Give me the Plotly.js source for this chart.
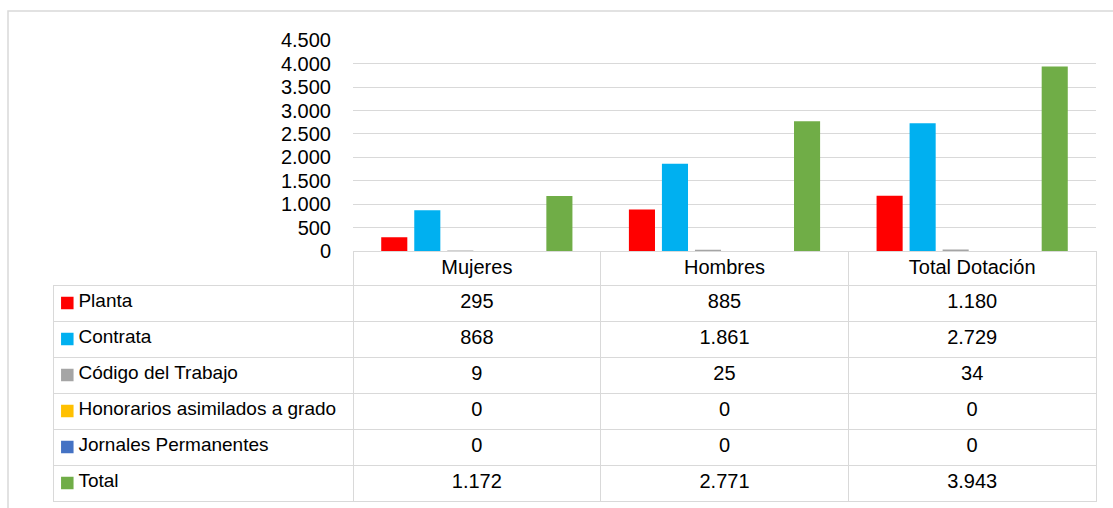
<!DOCTYPE html>
<html><head><meta charset="utf-8">
<script src="https://cdn.plot.ly/plotly-3.0.1.min.js"></script>
<style>html,body{margin:0;padding:0;background:#fff}</style>
</head><body><div id="chart" style="width:1113px;height:508px"></div>
<script>
const categories = ['Mujeres', 'Hombres', 'Total Dotación'];
const seriesNames = ['Planta', 'Contrata', 'Código del Trabajo', 'Honorarios asimilados a grado', 'Jornales Permanentes', 'Total'];
const planta = [295, 885, 1180];
const contrata = [868, 1861, 2729];
const codigoTrabajo = [9, 25, 34];
const honorarios = [0, 0, 0];
const jornales = [0, 0, 0];
const total = [1172, 2771, 3943];
const seriesColors = ['#ff0000', '#00b0f0', '#a5a5a5', '#ffc000', '#4472c4', '#70ad47'];

const W = 1113, H = 508;
const FONT = 'Liberation Sans, Arial, sans-serif';
const FS = 20;
const FS_LABEL = 19;
const GRID = '#d9d9d9';
const INDENT = '\u00a0\u00a0\u00a0\u200a'; // room for the colour key square
const seriesData = [planta, contrata, codigoTrabajo, honorarios, jornales, total];

// table geometry (px)
const TABLE_TOP = 251, HEADER_H = 34, ROW_H = 36;
const LABEL_L = 53, PLOT_L = 353, PLOT_R = 1096;

function fmt(v) { return String(v).replace(/\B(?=(\d{3})+(?!\d))/g, '.'); }

const traces = seriesData.map((vals, i) => ({
  type: 'bar', x: categories, y: vals, name: seriesNames[i],
  marker: {color: seriesColors[i]}, hoverinfo: 'none'
}));

// legend keys in the label column (one square per series, placed on its own category axis)
traces.push({
  type: 'scatter', mode: 'markers', xaxis: 'x2', yaxis: 'y2',
  x: seriesNames.map(() => 0), y: seriesNames,
  marker: {symbol: 'square', size: 12.5, color: seriesColors, line: {width: 0}},
  hoverinfo: 'none'
});

// label column table (header cell left blank and borderless)
traces.push({
  type: 'table',
  domain: {x: [LABEL_L / W, PLOT_L / W], y: [0, (H - TABLE_TOP) / H]},
  columnwidth: [1],
  header: {
    values: [''], height: HEADER_H,
    line: {color: 'rgba(0,0,0,0)', width: 0}, fill: {color: 'rgba(0,0,0,0)'},
    font: {family: FONT, size: FS_LABEL, color: '#000'}
  },
  cells: {
    values: [seriesNames.map(n => INDENT + n)],
    align: 'left', height: ROW_H,
    line: {color: GRID, width: 1}, fill: {color: 'rgba(0,0,0,0)'},
    font: {family: FONT, size: FS_LABEL, color: '#000'}
  }
});

// data table
traces.push({
  type: 'table',
  domain: {x: [PLOT_L / W, PLOT_R / W], y: [0, (H - TABLE_TOP) / H]},
  columnwidth: [1, 1, 1],
  header: {
    values: categories, align: 'center', height: HEADER_H,
    line: {color: GRID, width: 1}, fill: {color: 'white'},
    font: {family: FONT, size: FS, color: '#000'}
  },
  cells: {
    values: categories.map((c, ci) => seriesData.map(s => fmt(s[ci]))),
    align: 'center', height: ROW_H,
    line: {color: GRID, width: 1}, fill: {color: 'white'},
    font: {family: FONT, size: FS, color: '#000'}
  }
});

const rowsTop = TABLE_TOP + HEADER_H;
const rowsBottom = rowsTop + ROW_H * seriesNames.length;

const layout = {
  width: W, height: H,
  margin: {l: 0, r: 0, t: 0, b: 0},
  paper_bgcolor: '#fff', plot_bgcolor: 'rgba(0,0,0,0)',
  showlegend: false,
  separators: ',.',
  barmode: 'group', bargap: 0.2, bargroupgap: 0.21,
  font: {family: FONT, size: FS, color: '#000'},
  xaxis: {
    domain: [PLOT_L / W, PLOT_R / W], range: [-0.5, 2.5],
    showticklabels: false, showgrid: false, zeroline: false, showline: false, fixedrange: true
  },
  yaxis: {
    domain: [(H - TABLE_TOP) / H, (H - 40.3) / H], range: [0, 4500], dtick: 500,
    tickformat: ',d', ticks: '', ticklabelstandoff: 21,
    gridcolor: GRID, gridwidth: 1, zeroline: false, showline: false,
    tickfont: {family: FONT, size: FS, color: '#000'}, fixedrange: true
  },
  xaxis2: {
    domain: [LABEL_L / W, PLOT_L / W], range: [-14.3, 285.7], anchor: 'y2',
    visible: false, fixedrange: true
  },
  yaxis2: {
    domain: [(H - rowsBottom) / H, (H - rowsTop) / H], anchor: 'x2',
    type: 'category', range: [seriesNames.length - 0.5, -0.5],
    visible: false, fixedrange: true
  },
  shapes: [{
    type: 'rect', xref: 'paper', yref: 'paper', layer: 'below',
    x0: 8 / W, x1: 1.05, y0: -0.05, y1: 1 - 11 / H,
    line: {color: GRID, width: 1.5}
  }]
};

Plotly.newPlot('chart', traces, layout, {displayModeBar: false, staticPlot: true});
</script>
</body></html>
